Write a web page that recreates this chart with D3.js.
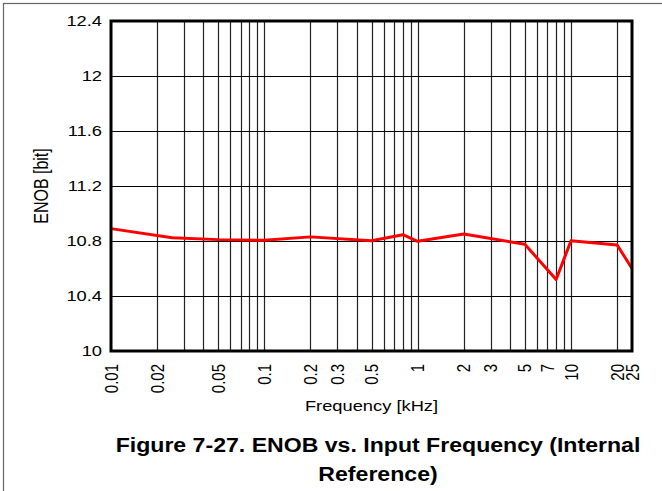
<!DOCTYPE html>
<html><head><meta charset="utf-8">
<script src="https://cdn.jsdelivr.net/npm/d3@7"></script>
<style>body{margin:0;background:#fff}svg{display:block;font-family:"Liberation Sans",Arial,sans-serif}</style>
</head><body>
<svg id="c" width="662" height="491"></svg>
<script>
// Data (frequency in kHz, ENOB in bits)
const freqs = [0.01, 0.025, 0.05, 0.1, 0.2, 0.5, 0.8, 1, 2, 5, 8, 10, 20, 25];
const enob  = [10.89, 10.824, 10.81, 10.805, 10.83, 10.802, 10.846, 10.798, 10.851, 10.776, 10.52, 10.802, 10.771, 10.60];
const xTickValues = [0.01, 0.02, 0.05, 0.1, 0.2, 0.3, 0.5, 1, 2, 3, 5, 7, 10, 20, 25];
const xTickLabels = ["0.01","0.02","0.05","0.1","0.2","0.3","0.5","1","2","3","5","7","10","20","25"];
const yTickValues = [10, 10.4, 10.8, 11.2, 11.6, 12, 12.4];
const yTickLabels = ["10","10.4","10.8","11.2","11.6","12","12.4"];
const xGridValues = [0.02,0.03,0.04,0.05,0.06,0.07,0.08,0.09,0.1,0.2,0.3,0.4,0.5,0.6,0.7,0.8,0.9,1,2,3,4,5,6,7,8,9,10,20];

const svg = d3.select("#c");
const L = 111, R = 632, T = 21, B = 351;
const SX = 1.22; // horizontal glyph stretch of the reference
const x = d3.scaleLog().domain([0.01, 25]).range([L, R]);
const y = d3.scaleLinear().domain([10, 12.4]).range([B, T]);

// outer frame
svg.append("rect").attr("x",3.5).attr("y",3.5).attr("width",700).attr("height",600)
  .attr("fill","none").attr("stroke","#666").attr("stroke-width",1.2);

// grid
const g = svg.append("g");
g.selectAll(".vg").data(xGridValues).join("line")
  .attr("x1", d => Math.round(x(d)) + 0.5).attr("x2", d => Math.round(x(d)) + 0.5)
  .attr("y1", T).attr("y2", B).attr("stroke", "#222").attr("stroke-width", 1.2);
g.selectAll(".hg").data(yTickValues.slice(1, -1)).join("line")
  .attr("x1", L).attr("x2", R)
  .attr("y1", d => Math.round(y(d)) + 0.5).attr("y2", d => Math.round(y(d)) + 0.5)
  .attr("stroke", "#000").attr("stroke-width", 1.2);

// data line
svg.append("path").datum(freqs.map((f, i) => [f, enob[i]]))
  .attr("fill", "none").attr("stroke", "#ff0000").attr("stroke-width", 3)
  .attr("stroke-linejoin", "round")
  .attr("d", d3.line().x(d => x(d[0])).y(d => y(d[1])));

// plot frame
svg.append("rect").attr("x", L).attr("y", T).attr("width", R - L).attr("height", B - T)
  .attr("fill", "none").attr("stroke", "#000").attr("stroke-width", 3);

// y tick labels
svg.selectAll(".yl").data(yTickValues).join("text")
  .attr("transform", d => `translate(102,${y(d)}) scale(${SX},1)`)
  .attr("dy", "0.36em").attr("text-anchor", "end")
  .attr("font-size", 15).attr("fill", "#000")
  .text((d, i) => yTickLabels[i]);

// x tick labels (rotated)
svg.selectAll(".xl").data(xTickValues).join("text")
  .attr("transform", d => `translate(${x(d)},364) scale(${SX},1) rotate(-90)`)
  .attr("dy", "0.36em").attr("text-anchor", "end")
  .attr("font-size", 15).attr("fill", "#000")
  .text((d, i) => xTickLabels[i]);

// axis titles
svg.append("text").attr("transform", `translate(${(L + R) / 2},411) scale(${SX},1)`)
  .attr("text-anchor", "middle").attr("font-size", 15).text("Frequency [kHz]");
svg.append("text").attr("transform", `translate(48,${(T + B) / 2}) scale(${SX},1) rotate(-90)`)
  .attr("text-anchor", "middle").attr("font-size", 16).text("ENOB [bit]");

// caption
const cap = svg.append("text").attr("text-anchor", "middle")
  .attr("font-size", 21).attr("font-weight", "bold");
cap.append("tspan").attr("x", 0).attr("y", 0).text("Figure 7-27. ENOB vs. Input Frequency (Internal");
cap.append("tspan").attr("x", 0).attr("y", 29).text("Reference)");
cap.attr("transform", `translate(378,452) scale(1.1,1)`);
</script>
</body></html>
